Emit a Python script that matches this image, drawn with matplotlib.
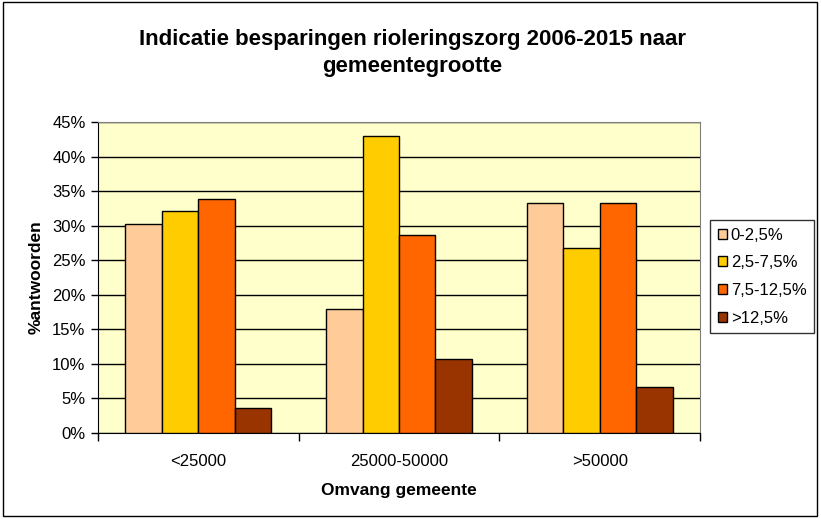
import numpy as np
import matplotlib
matplotlib.use("Agg")
import matplotlib.pyplot as plt
from matplotlib.patches import Rectangle

plt.rcParams["font.family"] = ["Liberation Sans", "DejaVu Sans"]

categories = ["<25000", "25000-50000", ">50000"]
series = ["0-2,5%", "2,5-7,5%", "7,5-12,5%", ">12,5%"]
vals_low = [30.2, 17.9, 33.3]      # 0-2,5%
vals_mid = [32.1, 42.9, 26.7]      # 2,5-7,5%
vals_high = [33.9, 28.6, 33.3]     # 7,5-12,5%
vals_top = [3.6, 10.7, 6.6]        # >12,5%
colors = ["#FFCC99", "#FFCC00", "#FF6600", "#993300"]

fig = plt.figure(figsize=(8.21, 5.19), dpi=100)
# outer chart border
fig.patches.append(Rectangle((0.004, 0.006), 0.991, 0.99, transform=fig.transFigure,
                             fill=False, edgecolor="black", lw=1.0))
ax = fig.add_axes([0.1194, 0.1657, 0.7332, 0.5993])
ax.set_facecolor("#FFFFCC")

x = np.arange(len(categories))
w = 1 / 5.5
for i, v in enumerate([vals_low, vals_mid, vals_high, vals_top]):
    ax.bar(x + (i - 1.5) * w, v, width=w, color=colors[i], edgecolor="black",
           lw=1.0, label=series[i], zorder=3)

ax.set_ylim(0, 45)
ax.set_xlim(-0.5, 2.5)
ax.set_yticks(np.arange(0, 46, 5))
ax.set_yticklabels([f"{t}%" for t in range(0, 46, 5)], fontsize=12)
ax.yaxis.grid(True, color="black", lw=1.0, zorder=0)
ax.set_axisbelow(True)

ax.set_xticks([-0.5, 0.5, 1.5, 2.5])
ax.set_xticklabels([])
ax.set_xticks(x, minor=True)
ax.set_xticklabels(categories, minor=True, fontsize=12)
ax.tick_params(axis="x", which="minor", length=0, pad=15)
ax.tick_params(axis="x", which="major", length=6, direction="out", width=1)
ax.tick_params(axis="y", length=5, direction="out", width=1, pad=4)

for s in ["top", "right"]:
    ax.spines[s].set_color("#808080")
for s in ["left", "bottom"]:
    ax.spines[s].set_color("black")

ax.set_xlabel("Omvang gemeente", fontsize=12.5, fontweight="bold", labelpad=10)
ax.set_ylabel("%antwoorden", fontsize=12.5, fontweight="bold", labelpad=6)

fig.text(0.502, 0.898, "Indicatie besparingen rioleringszorg 2006-2015 naar\ngemeentegrootte",
         ha="center", va="center", fontsize=16, fontweight="bold", linespacing=1.35)

leg = fig.legend(loc="upper left", bbox_to_anchor=(0.8648, 0.5761), fontsize=12,
                 frameon=True, fancybox=False, edgecolor="black",
                 handlelength=0.55, handleheight=0.55, handletextpad=0.25,
                 labelspacing=0.76, borderpad=0.45, borderaxespad=0)
leg.get_frame().set_linewidth(1.0)

fig.savefig("out.png", dpi=100)
